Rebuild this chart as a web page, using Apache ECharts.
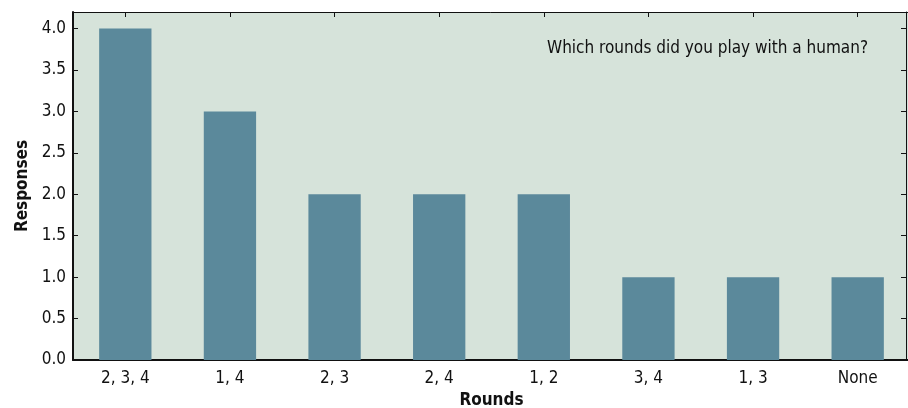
<!DOCTYPE html>
<html><head><meta charset="utf-8">
<script src="https://cdn.jsdelivr.net/npm/echarts@6/dist/echarts.min.js"></script>
<style>html,body{margin:0;padding:0;background:#fff}#c{width:908px;height:408px}</style>
</head><body><div id="c"></div>
<script>
const categories = ["2, 3, 4", "1, 4", "2, 3", "2, 4", "1, 2", "3, 4", "1, 3", "None"];
const responses = [4, 3, 2, 2, 2, 1, 1, 1];
const yTicks = [0, 0.5, 1, 1.5, 2, 2.5, 3, 3.5, 4];
const title = "Which rounds did you play with a human?";
const FONT = '"Liberation Sans Narrow", "DejaVu Sans Condensed", "Liberation Sans", sans-serif';
const chart = echarts.init(document.getElementById('c'));
chart.setOption({
  animation: false,
  backgroundColor: '#ffffff',
  textStyle: { fontFamily: FONT },
  title: {
    text: title, right: 35, top: 35,
    textStyle: { fontFamily: FONT, fontSize: 17, fontWeight: 'normal', color: '#111' }
  },
  grid: { left: 73, right: -2, top: 12, bottom: 48, show: true, backgroundColor: '#d6e3da', borderWidth: 0,
    containLabel: false, outerBoundsMode: 'none' },
  xAxis: [{
    type: 'category', data: categories, position: 'bottom',
    name: 'Rounds', nameLocation: 'middle', nameGap: 31,
    nameTextStyle: { fontFamily: FONT, fontSize: 17, fontWeight: 'bold', color: '#111' },
    axisLine: { onZero: false, lineStyle: { color: '#111', width: 2 } },
    axisTick: { show: false },
    axisLabel: { fontFamily: FONT, fontSize: 17, color: '#111', margin: 10 }
  }, {
    type: 'category', data: categories, position: 'top',
    axisLine: { show: true, onZero: false, lineStyle: { color: '#111', width: 1 } },
    axisTick: { show: true, inside: true, alignWithLabel: true, length: 5, lineStyle: { color: '#111' } },
    axisLabel: { show: false }
  }],
  yAxis: [{
    type: 'value', min: 0, max: 4.2, interval: 0.5, position: 'left',
    name: 'Responses', nameLocation: 'middle', nameGap: 41,
    nameTextStyle: { fontFamily: FONT, fontSize: 17, fontWeight: 'bold', color: '#111' },
    axisLine: { show: true, onZero: false, lineStyle: { color: '#111', width: 2 } },
    axisTick: { show: true, inside: true, length: 5, lineStyle: { color: '#111' } },
    splitLine: { show: false },
    axisLabel: { fontFamily: FONT, fontSize: 17, color: '#111', margin: 7,
      showMaxLabel: false,
      formatter: v => yTicks.includes(v) ? v.toFixed(1) : '' }
  }, {
    type: 'value', min: 0, max: 4.2, interval: 0.5, position: 'right', offset: -4,
    axisLine: { show: true, onZero: false, lineStyle: { color: '#111', width: 1 } },
    axisTick: { show: true, inside: true, length: 5, lineStyle: { color: '#111' } },
    splitLine: { show: false },
    axisLabel: { show: false }
  }],
  series: [{
    type: 'bar', data: responses, xAxisIndex: 0, yAxisIndex: 0,
    barWidth: '50%', itemStyle: { color: '#5b899b' }
  }]
});
</script></body></html>
